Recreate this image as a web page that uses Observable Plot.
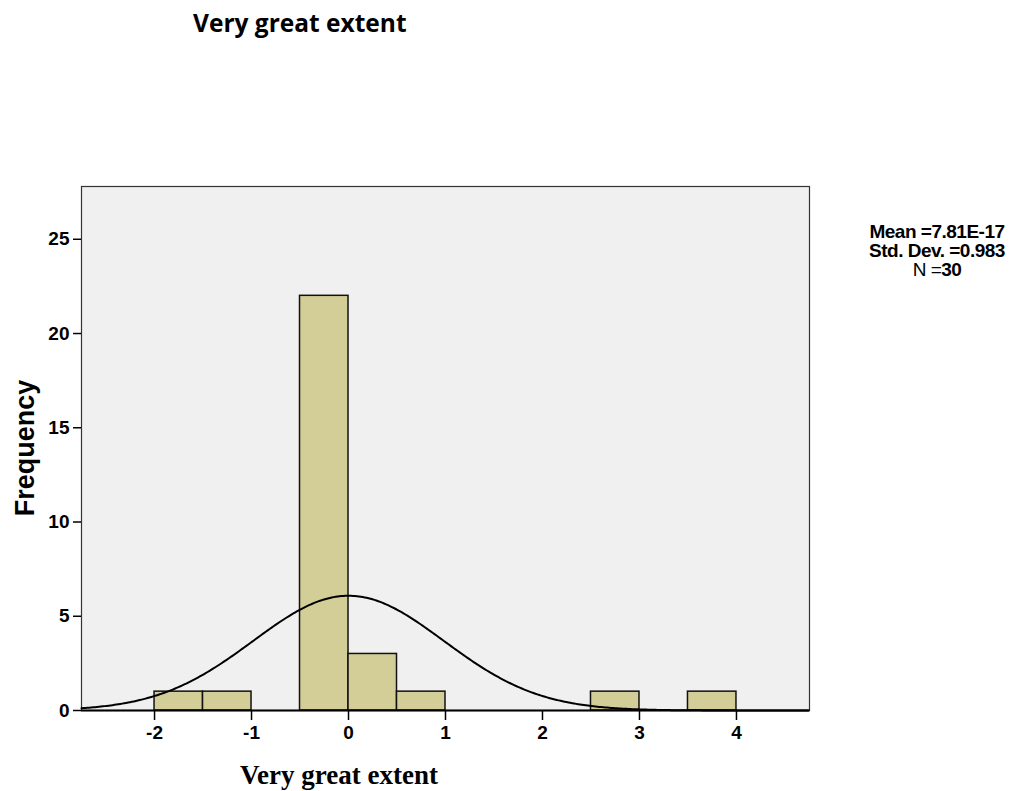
<!DOCTYPE html>
<html><head><meta charset="utf-8">
<script src="https://cdn.jsdelivr.net/npm/d3@7"></script>
<script src="https://cdn.jsdelivr.net/npm/@observablehq/plot@0.6"></script>
<style>
body{margin:0;background:#fff;}
#wrap{position:relative;width:1015px;height:791px;}
</style></head><body><div id="wrap"></div>
<script>
const title = "Very great extent";
const xLabel = "Very great extent";
const yLabel = "Frequency";
const binStart = [-2, -1.5, -0.5, 0, 0.5, 2.5, 3.5];
const binEnd = [-1.5, -1, 0, 0.5, 1, 3, 4];
const counts = [1, 1, 22, 3, 1, 1, 1];
const xTicks = [-2, -1, 0, 1, 2, 3, 4];
const yTicks = [0, 5, 10, 15, 20, 25];
const xDomain = [-2.753, 4.753];
const yDomain = [0, 27.8];
const mean = 7.81e-17, sd = 0.983, n = 30, binWidth = 0.5;
const statsLines = [["Mean =7.81E-17", ""], ["Std. Dev. =0.983", ""], ["N =", "30"]];

const bars = binStart.map((s, i) => ({x1: s, x2: binEnd[i], count: counts[i]}));
// fitted normal curve from the stated mean / std. dev. / N
const curve = d3.range(xDomain[0], xDomain[1] + 1e-9, 0.02).map(x => ({
  x, y: n * binWidth * Math.exp(-0.5 * ((x - mean) / sd) ** 2) / (sd * Math.sqrt(2 * Math.PI))
}));

const plot = Plot.plot({
  width: 1015, height: 791,
  marginLeft: 81, marginRight: 206, marginTop: 186, marginBottom: 81,
  x: {domain: xDomain},
  y: {domain: yDomain},
  style: {fontFamily: "'Liberation Sans', Arial, sans-serif", fontSize: "19px", fontWeight: "bold", color: "#000", background: "#fff"},
  marks: [
    Plot.frame({fill: "#f0f0f0", stroke: "#333", strokeWidth: 1.2}),
    Plot.rectY(bars, {x1: "x1", x2: "x2", y: "count", fill: "#d3ce98", stroke: "#111", strokeWidth: 1.5}),
    Plot.line(curve, {x: "x", y: "y", stroke: "#000", strokeWidth: 2}),
    Plot.ruleY([0], {stroke: "#000", strokeWidth: 2}),
    Plot.axisX({ticks: xTicks, tickSize: 10, tickPadding: 5, tickFormat: d => String(d), label: null, strokeWidth: 1.5}),
    Plot.axisY({ticks: yTicks, tickSize: 8, tickPadding: 4, tickFormat: d => String(d), label: null, strokeWidth: 1.5})
  ]
});
document.getElementById("wrap").appendChild(plot);

const svg = d3.select(plot);
svg.append("text").text(title)
  .attr("x", 193).attr("y", 32).attr("text-anchor", "start")
  .style("font-family", "'Open Sans', sans-serif").style("font-weight", "bold").style("font-size", "24.5px").attr("fill", "#000");
svg.append("text").text(xLabel)
  .attr("x", 339).attr("y", 784).attr("text-anchor", "middle")
  .style("font-family", "'Liberation Serif', 'Times New Roman', serif").style("font-weight", "bold").style("font-size", "27px").attr("fill", "#000");
svg.append("text").text(yLabel)
  .attr("transform", "translate(34,448) rotate(-90)").attr("text-anchor", "middle")
  .style("font-family", "'Liberation Sans', Arial, sans-serif").style("font-weight", "bold").style("font-size", "27px").attr("fill", "#000");
const st = svg.append("text").attr("text-anchor", "middle")
  .style("font-family", "'Liberation Sans', Arial, sans-serif").style("font-weight", "bold").style("font-size", "19px").style("letter-spacing", "-0.5px").attr("fill", "#000");
statsLines.forEach(([a, b], i) => {
  const t = st.append("tspan").attr("x", 937).attr("y", 238 + i * 19);
  if (b) {
    t.append("tspan").style("font-weight", "normal").text(a);
    t.append("tspan").text(b);
  } else {
    t.text(a);
  }
});
</script></body></html>
